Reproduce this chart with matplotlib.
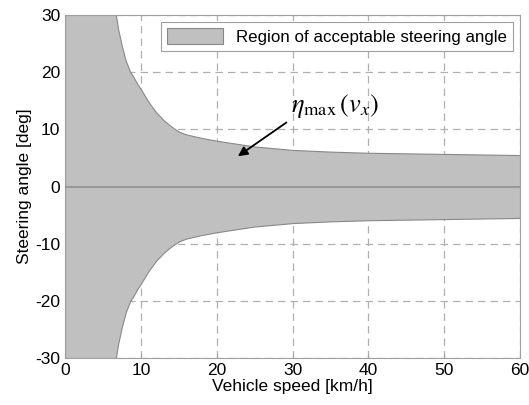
import numpy as np
import matplotlib.pyplot as plt

plt.rcParams['font.family'] = ['Liberation Sans', 'DejaVu Sans']
plt.rcParams['mathtext.fontset'] = 'stix'
plt.rcParams['axes.unicode_minus'] = False

# speed [km/h] and max steering angle [deg]
speed = [0, 6.7, 7.0, 7.5, 8.0, 8.6, 9.0, 9.5, 10, 11, 12, 13, 14, 15, 16, 18, 20,
         25, 30, 35, 40, 45, 50, 55, 60]
eta_max = [30, 30, 27.5, 24.5, 22.0, 20.0, 19.2, 18.0, 17.0, 14.8, 13.0, 11.6, 10.5,
           9.6, 9.1, 8.5, 8.0, 7.0, 6.4, 6.1, 5.9, 5.8, 5.7, 5.6, 5.5]

speed = np.array(speed)
eta_max = np.array(eta_max)

fig, ax = plt.subplots(figsize=(5.29, 4.05), dpi=100)
fig.subplots_adjust(left=0.123, right=0.983, top=0.963, bottom=0.116)

ax.fill_between(speed, -eta_max, eta_max, facecolor='#c0c0c0', edgecolor='#888888',
                linewidth=0.8, label='Region of acceptable steering angle', zorder=2)
ax.axhline(0, color='#909090', linewidth=1.2, zorder=3)

ax.set_xlim(0, 60)
ax.set_ylim(-30, 30)
ax.set_xticks(range(0, 61, 10))
ax.set_yticks(range(-30, 31, 10))
ax.grid(True, linestyle=(0, (6, 4)), color='#b0b0b0', linewidth=0.9, zorder=1)
ax.set_axisbelow(True)
for s in ax.spines.values():
    s.set_color('#a0a0a0')
ax.tick_params(direction='in', length=3, color='#a0a0a0', labelsize=12.5)

ax.set_xlabel('Vehicle speed [km/h]', fontsize=12.5, labelpad=1)
ax.set_ylabel('Steering angle [deg]', fontsize=12.5, labelpad=2)

ax.text(29.8, 14.0, r'$\eta_{\rm max}\,(v_x)$', fontsize=19, va='center', ha='left', zorder=5)
ax.annotate('', xy=(22.8, 5.3), xytext=(29.2, 11.2),
            arrowprops=dict(arrowstyle='-|>', color='black', lw=1.3,
                            shrinkA=0, shrinkB=0, mutation_scale=14), zorder=5)

leg = ax.legend(loc='upper right', fontsize=12.2, fancybox=False, framealpha=1,
                edgecolor='#a0a0a0', borderpad=0.35, handlelength=3.3,
                handleheight=1.1, borderaxespad=0.4)
leg.get_frame().set_linewidth(0.8)

plt.savefig('out.png', dpi=100)
